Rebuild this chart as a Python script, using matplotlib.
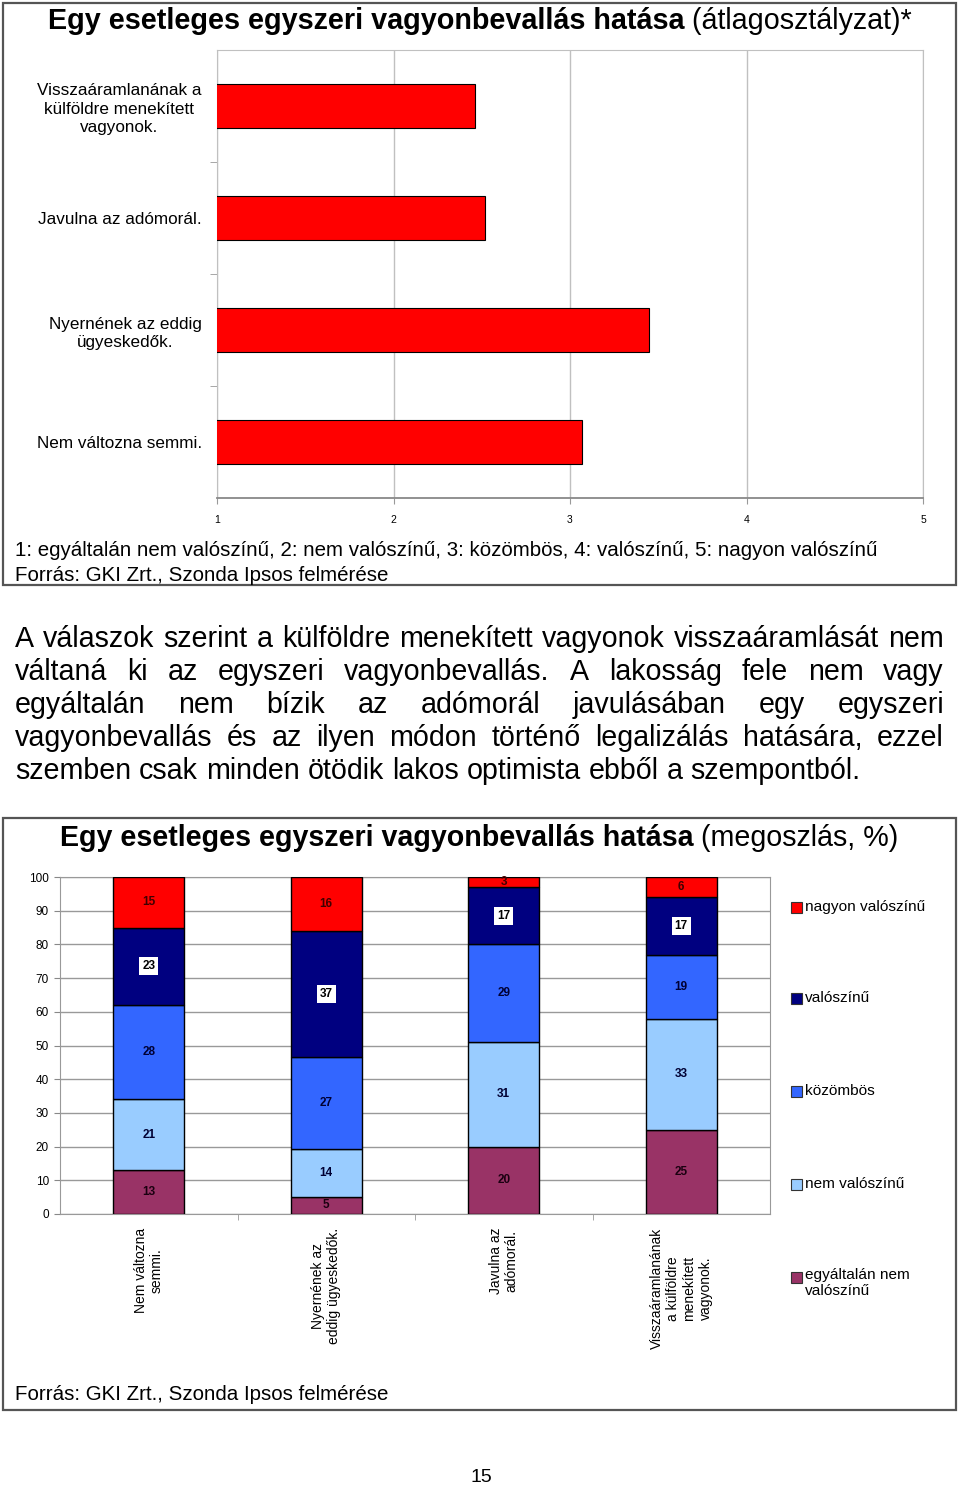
import matplotlib
matplotlib.use("Agg")
import matplotlib.pyplot as plt
from matplotlib.patches import Rectangle
import numpy as np

plt.rcParams['font.family'] = ['Liberation Sans', 'DejaVu Sans']

W, H = 960, 1487

# --- top chart: average grade per statement ---
avgCategories = ["Visszaáramlanának a\nkülföldre menekített\nvagyonok.",
                 "Javulna az adómorál.",
                 "Nyernének az eddig\nügyeskedők.",
                 "Nem változna semmi."]
avgValues = [2.46, 2.52, 3.45, 3.07]
avgTicks = [1, 2, 3, 4, 5]

# --- bottom chart: distribution (%) ---
distCategories = ["Nem változna\nsemmi.",
                  "Nyernének az\neddig ügyeskedők.",
                  "Javulna az\nadómorál.",
                  "Visszaáramlanának\na külföldre\nmenekített\nvagyonok."]
seriesNames = ["egyáltalán nem\nvalószínű", "nem valószínű", "közömbös", "valószínű", "nagyon valószínű"]
egyaltalanNem = [13, 5, 20, 25]
nemValoszinu = [21, 14, 31, 33]
kozombos = [28, 27, 29, 19]
valoszinu = [23, 37, 17, 17]
nagyonValoszinu = [15, 16, 3, 6]
seriesColors = ['#993366', '#99ccff', '#3366ff', '#000080', '#ff0000']
distTicks = list(range(0, 101, 10))

paraLines = [
    "A válaszok szerint a külföldre menekített vagyonok visszaáramlását nem",
    "váltaná ki az egyszeri vagyonbevallás. A lakosság fele nem vagy",
    "egyáltalán nem bízik az adómorál javulásában egy egyszeri",
    "vagyonbevallás és az ilyen módon történő legalizálás hatására, ezzel",
    "szemben csak minden ötödik lakos optimista ebből a szempontból.",
]
sourceText = "Forrás: GKI Zrt., Szonda Ipsos felmérése"
scaleText = "1: egyáltalán nem valószínű, 2: nem valószínű, 3: közömbös, 4: valószínű, 5: nagyon valószínű"


def fx(px):
    return px / W


def fy(py):
    return 1 - py / H


fig = plt.figure(figsize=(W / 100, H / 100), dpi=100)
renderer = fig.canvas.get_renderer()

# outer frames
for top, bottom in [(3, 585), (818, 1410)]:
    fig.add_artist(Rectangle((fx(3), fy(bottom)), fx(956) - fx(3), fy(top) - fy(bottom),
                             transform=fig.transFigure, fill=False, edgecolor='#555555', lw=1.6))


def mixedTitle(y, boldPart, normalPart, size, center=480):
    t1 = fig.text(0, fy(y), boldPart, fontsize=size, fontweight='bold', va='center')
    t2 = fig.text(0, fy(y), normalPart, fontsize=size, va='center')
    w1 = t1.get_window_extent(renderer).width
    w2 = t2.get_window_extent(renderer).width
    x0 = center - (w1 + w2) / 2
    t1.set_x(fx(x0))
    t2.set_x(fx(x0 + w1))


mixedTitle(21, "Egy esetleges egyszeri vagyonbevallás hatása", " (átlagosztályzat)*", 20.7)

# top chart
ax1 = fig.add_axes([fx(217), fy(498), fx(923) - fx(217), fy(50) - fy(498)])
ypos = np.arange(len(avgCategories))
ax1.barh(ypos, avgValues, height=0.4, color='#ff0000', edgecolor='black', lw=0.8, zorder=3)
ax1.set_xlim(1, 5)
ax1.set_ylim(3.5, -0.5)
ax1.set_xticks(avgTicks)
ax1.set_xticklabels([str(t) for t in avgTicks], fontsize=7.5)
ax1.set_yticks(ypos)
ax1.set_yticklabels(avgCategories, fontsize=12.3, multialignment='center', linespacing=1.3)
ax1.set_yticks(ypos[:-1] + 0.5, minor=True)
ax1.tick_params(axis='y', which='major', length=0, pad=11)
ax1.tick_params(axis='y', which='minor', length=5, color='#999999')
ax1.tick_params(axis='x', length=4, color='#999999', pad=8)
ax1.grid(axis='x', color='#c0c0c0', lw=1, zorder=0)
for s in ['top', 'right', 'left']:
    ax1.spines[s].set_color('#c0c0c0')
ax1.spines['bottom'].set_color('#888888')
ax1.spines['bottom'].set_linewidth(1.3)

fig.text(fx(15), fy(551), scaleText, fontsize=14.8, va='center')
fig.text(fx(15), fy(575), sourceText, fontsize=14.8, va='center')

# justified paragraph
paraSize = 20.6
lineY = [639, 672, 705, 738, 771]
left, right = 15, 944
for i, line in enumerate(paraLines):
    words = line.split(' ')
    texts = [fig.text(0, fy(lineY[i]), w, fontsize=paraSize, va='center') for w in words]
    widths = [t.get_window_extent(renderer).width for t in texts]
    if i == len(paraLines) - 1:
        gap = 0.278 * paraSize * 100 / 72
    else:
        gap = (right - left - sum(widths)) / (len(words) - 1)
    x = left
    for t, w in zip(texts, widths):
        t.set_x(fx(x))
        x += w + gap

# bottom chart (100% stacked, labels show the raw values)
mixedTitle(838, "Egy esetleges egyszeri vagyonbevallás hatása", " (megoszlás, %)", 20.6, center=479)

ax2 = fig.add_axes([fx(60), fy(1214), fx(770) - fx(60), fy(877) - fy(1214)])
xpos = np.arange(len(distCategories))
series = [egyaltalanNem, nemValoszinu, kozombos, valoszinu, nagyonValoszinu]
totals = np.sum(np.array(series), axis=0)
bottom = np.zeros(len(xpos))
for idx, (vals, col) in enumerate(zip(series, seriesColors)):
    raw = np.array(vals)
    share = raw / totals * 100
    ax2.bar(xpos, share, bottom=bottom, width=0.4, color=col, edgecolor='black', lw=1, zorder=3)
    for xi, b, v, r in zip(xpos, bottom, share, raw):
        if idx == 3:
            ax2.text(xi, b + v / 2, str(r), ha='center', va='center', fontsize=8.5, fontweight='bold',
                     color='black', zorder=4,
                     bbox=dict(boxstyle='square,pad=0.25', fc='white', ec='none'))
        else:
            tc = '#400000' if idx == 4 else ('#000033' if idx in (1, 2) else '#1a0010')
            ax2.text(xi, b + v / 2, str(r), ha='center', va='center', fontsize=8.5, fontweight='bold',
                     color=tc, zorder=4)
    bottom = bottom + share

ax2.set_xlim(-0.5, len(xpos) - 0.5)
ax2.set_ylim(0, 100)
ax2.set_yticks(distTicks)
ax2.set_yticklabels([str(t) for t in distTicks], fontsize=8.5)
ax2.tick_params(axis='y', length=4, color='#888888', pad=4)
ax2.set_xticks(xpos)
ax2.set_xticklabels(distCategories, rotation=90, ha='center', va='top', multialignment='center', fontsize=10)
ax2.set_xticks(xpos[:-1] + 0.5, minor=True)
ax2.tick_params(axis='x', which='major', length=0, pad=10)
ax2.tick_params(axis='x', which='minor', length=4, color='#999999')
ax2.grid(axis='y', color='#999999', lw=1, zorder=0)
for s in ['top', 'right', 'left', 'bottom']:
    ax2.spines[s].set_color('#999999')

# legend (top entry first)
legY = [907, 998, 1091, 1184, 1277]
for y, name, col in zip(legY, seriesNames[::-1], seriesColors[::-1]):
    fig.add_artist(Rectangle((fx(791), fy(y + 5.5)), fx(11), 11 / H, transform=fig.transFigure,
                             facecolor=col, edgecolor='#333333', lw=0.8))
    if '\n' in name:
        fig.text(fx(805), fy(y - 9), name, fontsize=11.1, va='top', linespacing=1.15)
    else:
        fig.text(fx(805), fy(y), name, fontsize=11.1, va='center')

fig.text(fx(15), fy(1395), sourceText, fontsize=14.8, va='center')
fig.text(fx(481), fy(1477), "15", fontsize=14, ha='center', va='center')

fig.savefig("out.png", dpi=100)
